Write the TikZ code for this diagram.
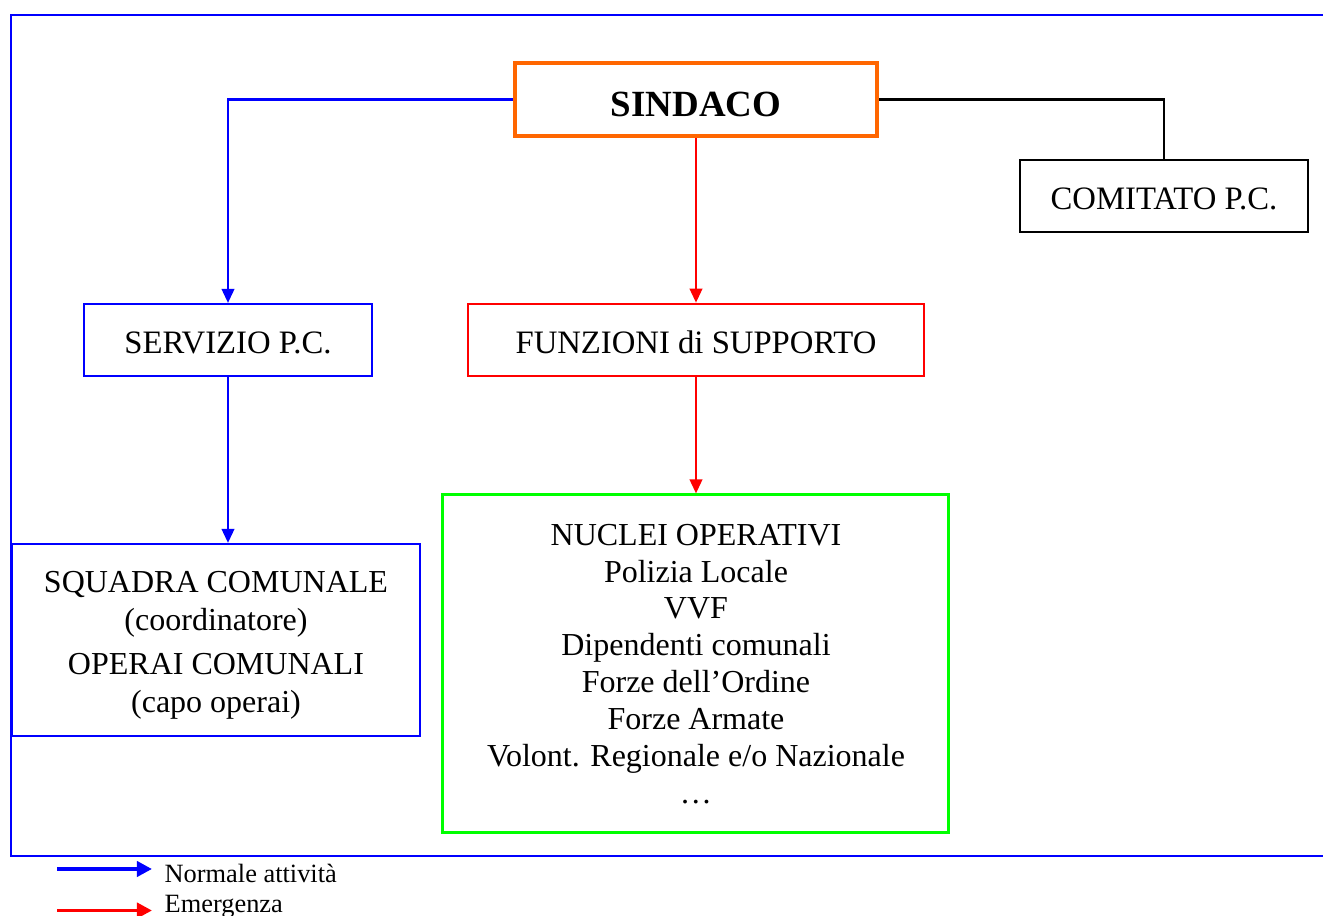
\documentclass[tikz,border=0pt]{standalone}
\usepackage{fontspec}
\setmainfont{Liberation Serif}
\usetikzlibrary{arrows.meta}
\definecolor{frameblue}{HTML}{0000FF}
\definecolor{sindorange}{HTML}{FF6600}
\definecolor{emred}{HTML}{FF0000}
\definecolor{nucgreen}{HTML}{00FF00}
\begin{document}
\begin{tikzpicture}[x=0.01cm,y=-0.01cm,
  txt/.style={font=\fontsize{9.1}{10.6}\selectfont},
  box/.style={draw,rectangle,inner sep=0pt,align=center,txt},
  onebox/.style={box,font=\fontsize{9.3}{10.6}\selectfont,text height=7.7pt,text depth=0pt},
  link/.style={line width=0.6pt},
  tip/.style={-{Triangle[length=4pt,width=3.6pt]}},
  legarrow/.style={line width=1.1pt,-{Triangle[length=4.3pt,width=4.3pt]}}]
\useasboundingbox (0,0) rectangle (1323,916);

% open frame around the chart
\draw[frameblue,line width=0.7pt] (1323,15) -- (11,15) -- (11,856) -- (1323,856);

% boxes
\node[box,draw=sindorange,line width=1.2pt,minimum width=3.62cm,minimum height=0.73cm,
      font=\fontsize{10.5}{12}\selectfont\bfseries,text height=9.8pt,text depth=0pt] (sind) at (696,99.5) {SINDACO};
\node[onebox,draw=frameblue,line width=0.6pt,minimum width=2.88cm,minimum height=0.72cm] (serv) at (228,340) {SERVIZIO P.C.};
\node[onebox,draw=emred,line width=0.75pt,minimum width=4.56cm,minimum height=0.72cm] (funz) at (696,340) {FUNZIONI di SUPPORTO};
\node[onebox,draw=black,line width=0.6pt,minimum width=2.88cm,minimum height=0.72cm] (comi) at (1164,196) {COMITATO P.C.};
\node[box,draw=frameblue,line width=0.6pt,minimum width=4.08cm,minimum height=1.92cm] (squa) at (216,640) {};
\node[align=center,txt,inner sep=0pt,font=\fontsize{9.1}{10.8}\selectfont] (squat) at (216,645)
  {SQUADRA COMUNALE\\(coordinatore)\\[1.7pt]OPERAI COMUNALI\\(capo operai)};
\node[box,draw=nucgreen,line width=0.85pt,minimum width=5.05cm,minimum height=3.37cm] (nucl) at (695.5,663.5) {};
\node[align=center,txt,inner sep=0pt,font=\fontsize{9.1}{10.5}\selectfont] (nuclt) at (696,664)
  {NUCLEI OPERATIVI\\Polizia Locale\\VVF\\Dipendenti comunali\\Forze dell’Ordine\\Forze Armate\\Volont. Regionale e/o Nazionale\\…};

% connectors
\draw[link,frameblue,tip] (sind.west) -| (serv.north);
\draw[link,emred,tip] (sind.south) -- (funz.north);
\draw[link,black] (sind.east) -| (comi.north);
\draw[link,frameblue,tip] (serv.south) -- (squa.north -| serv.south);
\draw[link,emred,tip] (funz.south) -- (nucl.north -| funz.south);

% legend
\coordinate (lb0) at (57,869);
\coordinate (lb1) at (152,869);
\coordinate (lr0) at (57,910.5);
\coordinate (lr1) at (152,910.5);
\draw[legarrow,frameblue] (lb0) -- (lb1);
\draw[legarrow,emred] (lr0) -- (lr1);
\node[anchor=base west,inner sep=0pt,font=\fontsize{7.5}{9}\selectfont] (lbt) at (164,882.5) {Normale attività};
\node[anchor=base west,inner sep=0pt,font=\fontsize{7.5}{9}\selectfont] (lrt) at (164,912.5) {Emergenza};
\end{tikzpicture}
\end{document}
